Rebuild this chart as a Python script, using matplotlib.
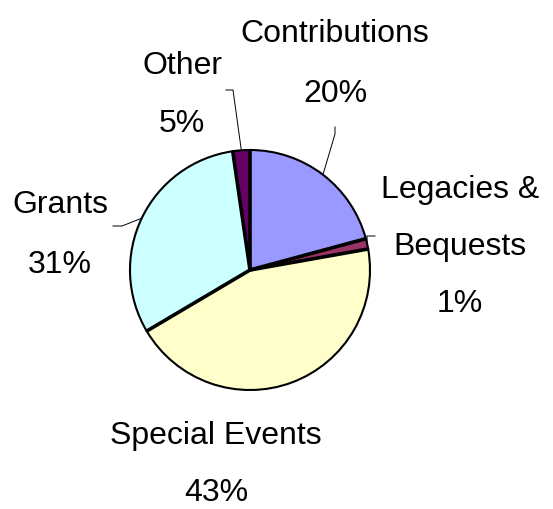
import numpy as np
import matplotlib
matplotlib.use('Agg')
import matplotlib.pyplot as plt
from matplotlib import font_manager

W, H = 553, 510

# data
names = ['Contributions', 'Legacies &\nBequests', 'Special Events', 'Grants', 'Other']
values = [20.8, 1.4, 44.3, 31.2, 2.3]
pct_labels = ['20%', '1%', '43%', '31%', '5%']
colors = ['#9999FF', '#993366', '#FFFFCC', '#CCFFFF', '#660066']

available = {f.name for f in font_manager.fontManager.ttflist}
font = 'Liberation Sans Narrow' if 'Liberation Sans Narrow' in available else 'Liberation Sans'
fsize = 26 if font == 'Liberation Sans Narrow' else 23

fig = plt.figure(figsize=(W / 100, H / 100), dpi=100)
ax = fig.add_axes([0, 0, 1, 1])

cx, cy, r = 250, H - 271, 120
wedges, _ = ax.pie(values, colors=colors, startangle=90, counterclock=False,
                   center=(cx, cy), radius=r,
                   wedgeprops=dict(edgecolor='black', linewidth=1.5))
ax.set_xlim(0, W)
ax.set_ylim(0, H)
ax.set_aspect('equal')
ax.axis('off')

# heavier radial edges like the original
for w in wedges:
    a = np.deg2rad(w.theta1)
    ax.plot([cx, cx + r * np.cos(a)], [cy, cy + r * np.sin(a)],
            color='black', lw=2.6, solid_capstyle='butt')

# label layout in pixels (x centre, baseline of first line, line step) and leader elbows
label_pos = [(335, 42, 60), (460, 198, 57), (216, 444, 57), (60, 213, 60), (182, 74, 58)]
elbows = [[(335, 128), (335, 135)],
          [(375, 237), (367, 237)],
          None,
          [(113, 227), (122, 227)],
          [(226, 91), (233, 91)]]

for w, name, pct, (lx, ly, step), elb in zip(wedges, names, pct_labels, label_pos, elbows):
    lines = name.split('\n') + [pct]
    for i, t in enumerate(lines):
        ax.text(lx, H - (ly + i * step), t, ha='center', va='baseline',
                fontsize=fsize, family=font, color='black')
    if elb is not None:
        mid = np.deg2rad((w.theta1 + w.theta2) / 2)
        px = cx + r * np.cos(mid)
        py = cy + r * np.sin(mid)
        xs = [p[0] for p in elb] + [px]
        ys = [H - p[1] for p in elb] + [py]
        ax.plot(xs, ys, color='black', lw=0.7)

fig.savefig('out.png', dpi=100, facecolor='white')
